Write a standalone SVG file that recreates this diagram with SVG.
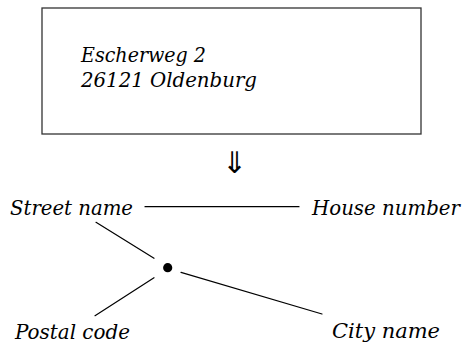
<svg xmlns="http://www.w3.org/2000/svg" width="462" height="347" viewBox="0 0 462 347">
<style>
.t{font-family:"DejaVu Serif","Liberation Serif",serif;font-style:italic;font-size:20px;fill:#000}
.c{stroke:#000;stroke-width:1.2;fill:none;stroke-linecap:round}
</style>
<rect width="462" height="347" fill="#fff"/>
<g id="address">
<rect x="42" y="8" width="379" height="126" fill="none" stroke="#333" stroke-width="1.3"/>
<text class="t" x="81" y="62" textLength="125" lengthAdjust="spacingAndGlyphs">Escherweg 2</text>
<text class="t" x="81" y="87" textLength="176" lengthAdjust="spacingAndGlyphs">26121 Oldenburg</text>
</g>
<g id="arrow">
<text x="234.5" y="173" text-anchor="middle" style="font-family:'Noto Sans CJK SC','DejaVu Sans',sans-serif;font-size:30px;fill:#000">⇓</text>
</g>
<g id="street"><text class="t" x="10" y="215" textLength="123" lengthAdjust="spacingAndGlyphs">Street name</text></g>
<g id="house"><text class="t" x="312" y="215" textLength="148" lengthAdjust="spacingAndGlyphs">House number</text></g>
<g id="postal"><text class="t" x="15" y="339" textLength="115" lengthAdjust="spacingAndGlyphs">Postal code</text></g>
<g id="city"><text class="t" x="332" y="338" textLength="108" lengthAdjust="spacingAndGlyphs">City name</text></g>
<g id="center"><circle cx="167.7" cy="267.7" r="4.6" fill="#000"/></g>
<g id="connectors">
<line class="c" x1="145" y1="206.7" x2="299" y2="206.7"/>
<line class="c" x1="96" y1="222.3" x2="154" y2="258.3"/>
<line class="c" x1="154" y1="277.7" x2="95" y2="315.7"/>
<line class="c" x1="181" y1="272.3" x2="322" y2="314"/>
</g>
</svg>
